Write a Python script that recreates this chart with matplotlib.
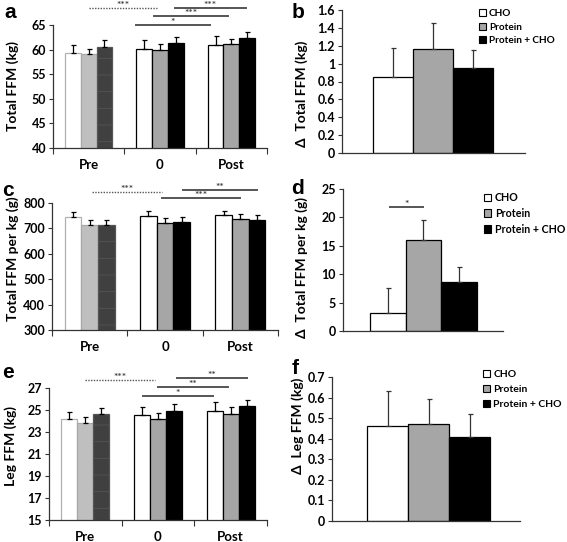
import numpy as np
import matplotlib
matplotlib.use('Agg')
import matplotlib.pyplot as plt
from matplotlib.patches import Patch
from matplotlib.ticker import FuncFormatter

plt.rcParams['font.family'] = ['Lato', 'DejaVu Sans']
plt.rcParams['font.weight'] = 'bold'
plt.rcParams['axes.labelweight'] = 'bold'
plt.rcParams['hatch.linewidth'] = 0.6

# data
groups = ['Pre', '0', 'Post']
treatments = ['CHO', 'Protein', 'Protein + CHO']

# a - total FFM (kg)
ffm_cho = [59.3, 60.2, 61.0]
ffm_pro = [59.1, 59.9, 61.1]
ffm_pc = [60.6, 61.4, 62.3]
ffm_cho_err = [1.7, 1.75, 1.7]
ffm_pro_err = [1.1, 1.3, 1.0]
ffm_pc_err = [1.3, 1.2, 1.35]

# c - total FFM per kg (g)
ffmkg_cho = [743, 750, 752]
ffmkg_pro = [712, 720, 737]
ffmkg_pc = [715, 725, 735]
ffmkg_cho_err = [20, 20, 18]
ffmkg_pro_err = [20, 19, 18]
ffmkg_pc_err = [18, 18, 17]

# e - leg FFM (kg)
leg_cho = [24.15, 24.5, 24.95]
leg_pro = [23.8, 24.15, 24.65]
leg_pc = [24.6, 24.95, 25.35]
leg_cho_err = [0.7, 0.8, 0.75]
leg_pro_err = [0.53, 0.55, 0.6]
leg_pc_err = [0.55, 0.55, 0.55]

# b, d, f - change scores
d_ffm = [0.85, 1.16, 0.955]
d_ffm_err = [0.33, 0.29, 0.195]
d_ffmkg = [3.2, 16.0, 8.7]
d_ffmkg_err = [4.3, 3.6, 2.5]
d_leg = [0.462, 0.47, 0.409]
d_leg_err = [0.17, 0.125, 0.11]

# significance brackets: (x0, x1, y, stars, dotted)
sig_a = [(0.0, 0.96, 68.5, '***', True), (1.21, 2.2, 68.5, '***', False),
         (0.92, 1.96, 66.8, '***', False), (0.66, 1.70, 65.0, '*', False)]
sig_c = [(0.03, 0.96, 843, '***', True), (1.24, 2.22, 853, '**', False),
         (0.96, 1.99, 821, '***', False)]
sig_e = [(0.0, 0.96, 27.7, '***', True), (1.26, 2.22, 27.9, '**', False),
         (1.0, 1.96, 27.06, '**', False), (0.79, 1.75, 26.27, '*', False)]
sig_d = [(0.06, 0.98, 21.8, '*', False)]

W, H = 567, 542
fig = plt.figure(figsize=(W / 100, H / 100), dpi=100)


def rect(l, t, r, b):
    return [l / W, 1 - b / H, (r - l) / W, (b - t) / H]


fmt = FuncFormatter(lambda v, p: '{:g}'.format(round(v, 3)))
fill = ['#ffffff', '#a6a6a6', '#000000']
pre_fill = ['#ffffff', '#bfbfbf', '#404040']
pre_edge = ['#b0b0b0', '#a8a8a8', '#555555']


def style(ax, ylim, yticks):
    for s in ['top', 'right']:
        ax.spines[s].set_visible(False)
    for s in ['left', 'bottom']:
        ax.spines[s].set_color('#333333')
        ax.spines[s].set_linewidth(0.9)
    ax.set_ylim(*ylim)
    ax.set_yticks(yticks)
    ax.yaxis.set_major_formatter(fmt)
    ax.tick_params(axis='y', direction='out', length=3, width=0.8, labelsize=9, pad=2, color='#333333')


def sig_lines(ax, sig):
    for x0, x1, y, stars, dotted in sig:
        if dotted:
            ax.plot([x0, x1], [y, y], color='#555555', lw=1.0, ls=(0, (1, 1)), clip_on=False)
        else:
            ax.plot([x0, x1], [y, y], color='#555555', lw=1.4, clip_on=False)
        ax.annotate(stars, ((x0 + x1) / 2, y), xytext=(0, 1.8), textcoords='offset points',
                    ha='center', va='center', fontsize=7.5, color='#444444',
                    annotation_clip=False)


def group_panel(box, series, errs, ylim, yticks, sig, ylabel, lab_xy):
    ax = fig.add_axes(rect(*box))
    x = np.arange(len(groups))
    w = 0.22
    for i, (vals, err) in enumerate(zip(series, errs)):
        bars = ax.bar(x + (i - 1) * w, vals, w,
                      color=[pre_fill[i], fill[i], fill[i]],
                      edgecolor=[pre_edge[i], '#000000', '#000000'], linewidth=0.9,
                      yerr=[np.zeros(len(vals)), err],
                      error_kw=dict(ecolor='#000000', elinewidth=0.9, capsize=1.8, capthick=0.9))
        if i == 2:
            bars.patches[0].set_hatch('-')
    ax.set_xlim(-0.5, 2.5)
    ax.set_xticks([-0.5, 0.5, 1.5, 2.5])
    ax.set_xticklabels([])
    ax.set_xticks(x, minor=True)
    ax.set_xticklabels(groups, minor=True, fontsize=9.5)
    ax.tick_params(axis='x', which='major', direction='out', length=4, width=0.8, color='#333333')
    ax.tick_params(axis='x', which='minor', length=0, pad=8)
    style(ax, ylim, yticks)
    ax.set_ylabel(ylabel, fontsize=10)
    ax.yaxis.set_label_coords(lab_xy[0] / W, 1 - lab_xy[1] / H, transform=fig.transFigure)
    sig_lines(ax, sig)
    return ax


def delta_panel(box, vals, err, xlim, ylim, yticks, ylabel, lab_xy, leg_xy, leg_fs, leg_sp, sig=()):
    ax = fig.add_axes(rect(*box))
    x = np.arange(len(treatments))
    ax.bar(x, vals, 1.0, color=fill, edgecolor='#000000', linewidth=0.9,
           yerr=[np.zeros(len(vals)), err],
           error_kw=dict(ecolor='#333333', elinewidth=0.9, capsize=1.8, capthick=0.9))
    ax.set_xlim(*xlim)
    ax.set_xticks([])
    style(ax, ylim, yticks)
    ax.set_ylabel(ylabel, fontsize=10)
    ax.yaxis.set_label_coords(lab_xy[0] / W, 1 - lab_xy[1] / H, transform=fig.transFigure)
    handles = [Patch(facecolor=c, edgecolor='#000000', linewidth=0.8) for c in fill]
    ax.legend(handles, treatments, loc='upper left',
              bbox_to_anchor=(leg_xy[0] / W, 1 - leg_xy[1] / H), bbox_transform=fig.transFigure,
              frameon=False, handlelength=0.7, handleheight=0.7, handletextpad=0.3,
              labelspacing=leg_sp, borderpad=0, borderaxespad=0, prop=dict(size=leg_fs, weight='bold'))
    sig_lines(ax, sig)
    return ax


group_panel((53, 25, 267, 148), [ffm_cho, ffm_pro, ffm_pc], [ffm_cho_err, ffm_pro_err, ffm_pc_err],
            (40, 65), np.arange(40, 66, 5), sig_a, 'Total FFM (kg)', (19, 86))
group_panel((52, 203, 278, 330), [ffmkg_cho, ffmkg_pro, ffmkg_pc],
            [ffmkg_cho_err, ffmkg_pro_err, ffmkg_pc_err],
            (300, 800), np.arange(300, 801, 100), sig_c, 'Total FFM per kg (g)', (19, 259))
group_panel((49, 388, 267, 520), [leg_cho, leg_pro, leg_pc], [leg_cho_err, leg_pro_err, leg_pc_err],
            (15, 27), np.arange(15, 28, 2), sig_e, 'Leg FFM (kg)', (17, 446))

delta_panel((342, 10, 525, 153), d_ffm, d_ffm_err, (-1.275, 3.3), (0, 1.6), np.arange(0, 1.61, 0.2),
            '\u0394  Total FFM (kg)', (308, 94), (479, 9), 7.2, 0.45)
delta_panel((343, 189, 503, 331), d_ffmkg, d_ffmkg_err, (-1.256, 3.23), (0, 25), np.arange(0, 26, 5),
            '\u0394  Total FFM per kg (g)', (308, 268), (484, 192), 7.7, 0.45, sig_d)
delta_panel((332, 377, 520, 521), d_leg, d_leg_err, (-1.354, 3.23), (0, 0.7), np.arange(0, 0.71, 0.1),
            '\u0394  Leg FFM (kg)', (304, 426), (483, 370), 7.5, 0.55)

for letter, (px, py) in zip('abcdef', [(10, 13), (298, 12), (8, 190), (298, 188), (8, 372), (295, 368)]):
    fig.text(px / W, 1 - py / H, letter, ha='center', va='center', fontsize=15,
             fontweight='bold', family='Liberation Sans')

fig.savefig('out.png', dpi=100)
